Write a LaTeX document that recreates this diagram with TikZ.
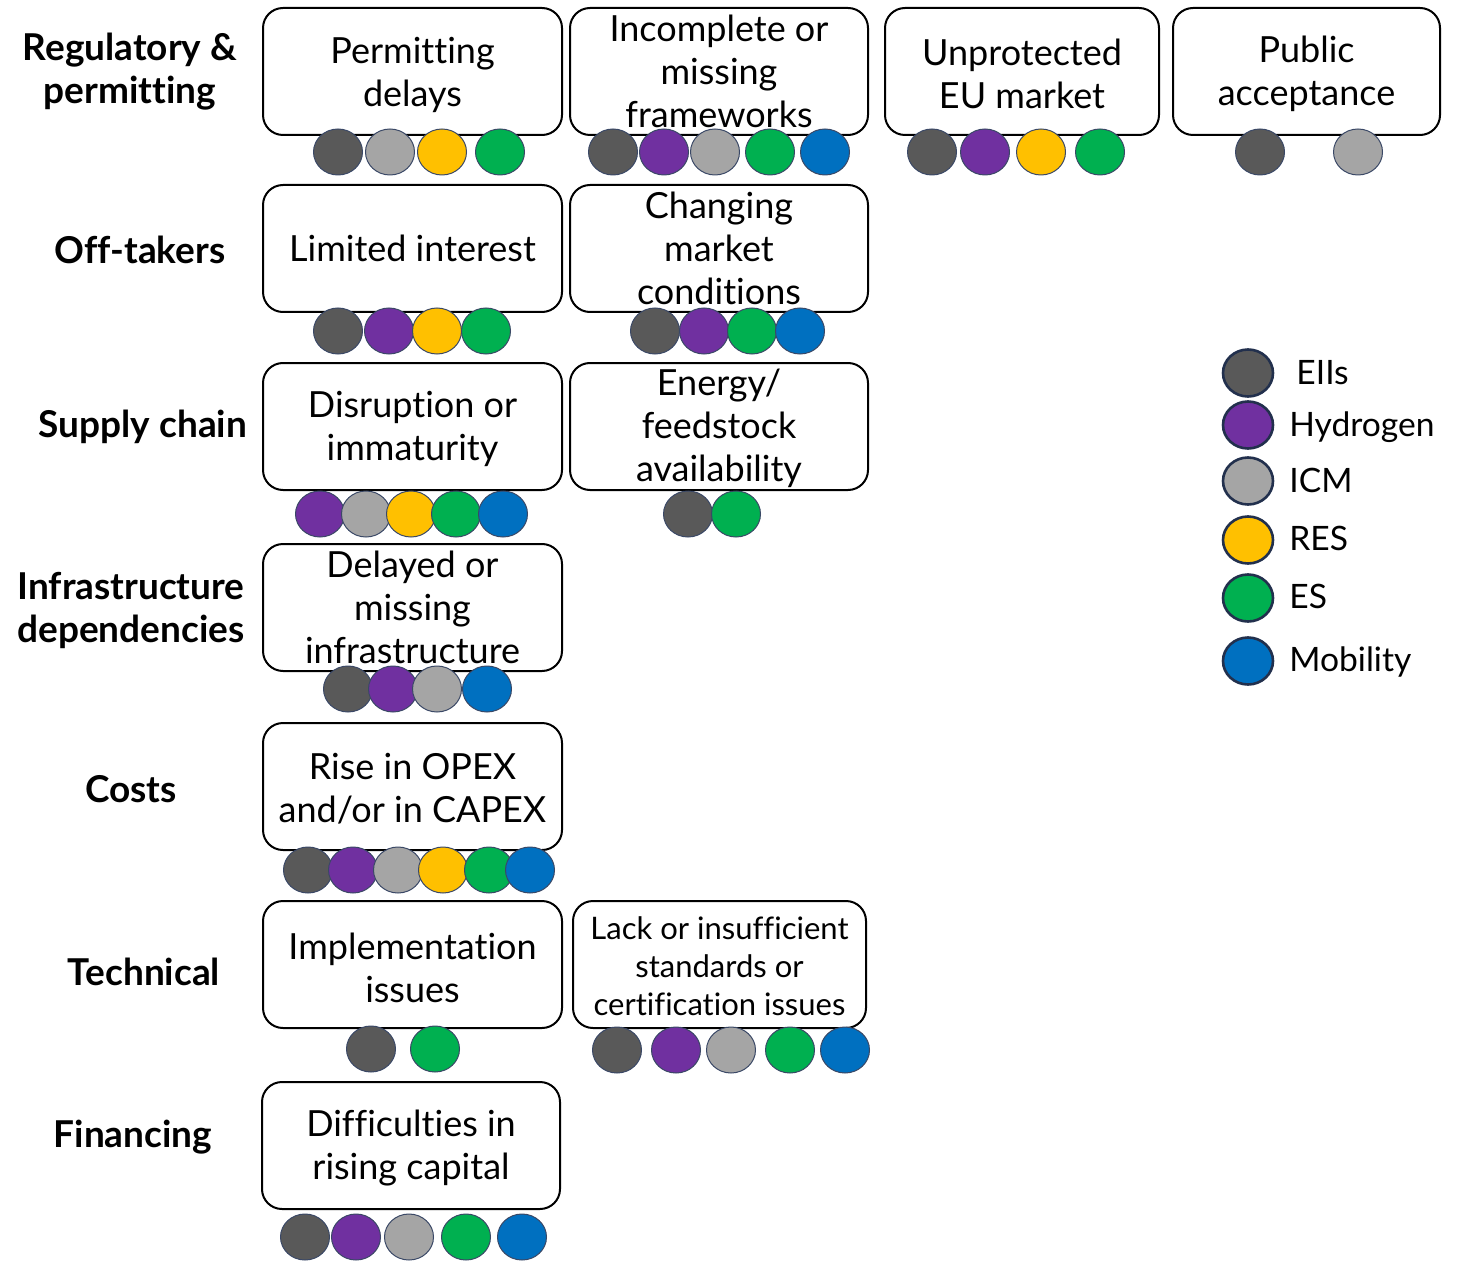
\documentclass[tikz,border=0pt]{standalone}
\usepackage{fontspec}
\setmainfont[Ligatures=CommonOff]{Lato}
\usetikzlibrary{shapes.geometric}
\definecolor{cEII}{HTML}{595959}
\definecolor{cH}{HTML}{7030A0}
\definecolor{cICM}{HTML}{A5A5A5}
\definecolor{cRES}{HTML}{FFC000}
\definecolor{cES}{HTML}{00B050}
\definecolor{cMob}{HTML}{0070C0}
\definecolor{rim}{HTML}{3A4866}
\definecolor{lrim}{HTML}{22304D}
\begin{document}
\begin{tikzpicture}[x=0.5pt,y=-0.5pt,
  box/.style={draw=black,line width=1pt,rounded corners=10pt,minimum height=63.5pt,inner sep=0pt,fill=white},
  boxtext/.style={align=center,inner sep=0pt,font=\fontsize{18}{21.5}\selectfont},
  smalltext/.style={align=center,inner sep=0pt,font=\fontsize{15.5}{19}\selectfont},
  cat/.style={align=center,inner sep=0pt,font=\fontsize{18.5}{21.5}\selectfont\bfseries},
  dot/.style={ellipse,draw=rim,line width=0.5pt,minimum width=24.5pt,minimum height=23pt,inner sep=0pt,fill=#1},
  ldot/.style={dot=#1,line width=1.3pt,draw=lrim,minimum width=25pt,minimum height=23.5pt},
  ltext/.style={anchor=west,inner sep=0pt,text height=12pt,text depth=3.5pt,font=\fontsize{16.8}{20}\selectfont}]
\useasboundingbox (0,0) rectangle (1460,1262);

% category labels
\node[cat] (c1) at (130,72) {Regulatory \&\\permitting};
\node[cat] (c2) at (140,250) {Off-takers};
\node[cat] (c3) at (143,427) {Supply chain};
\node[cat] (c4) at (131,610) {Infrastructure\\dependencies};
\node[cat] (c5) at (131,789) {Costs};
\node[cat] (c6) at (144,972) {Technical};
\node[cat] (c7) at (133,1137) {Financing};

% boxes
\node[box,minimum width=149.5pt] (b11) at (412.5,71.5) {};
\node[box,minimum width=149pt] (b12) at (719,71.5) {};
\node[box,minimum width=137pt] (b13) at (1022,71.5) {};
\node[box,minimum width=133.5pt] (b14) at (1306.5,71.5) {};
\node[box,minimum width=149.5pt] (b21) at (412.5,248.5) {};
\node[box,minimum width=149pt] (b22) at (719,248.5) {};
\node[box,minimum width=149.5pt] (b31) at (412.5,426.5) {};
\node[box,minimum width=149pt] (b32) at (719,426.5) {};
\node[box,minimum width=149.5pt] (b41) at (412.5,607.5) {};
\node[box,minimum width=149.5pt] (b51) at (412.5,786.5) {};
\node[box,minimum width=149.5pt] (b61) at (412.5,964.5) {};
\node[box,minimum width=146.5pt] (b62) at (719.5,964.5) {};
\node[box,minimum width=149pt] (b71) at (411,1145.5) {};

% box texts
\node[boxtext] (t11) at ([yshift=-1.5pt]b11.center) {Permitting\\delays};
\node[boxtext] (t12) at (b12.center) {Incomplete or\\missing\\frameworks};
\node[boxtext] (t13) at ([yshift=-1pt]b13.center) {Unprotected\\EU market};
\node[boxtext] (t14) at ([yshift=-1pt]b14.center) {Public\\acceptance};
\node[boxtext] (t21) at (b21.center) {Limited interest};
\node[boxtext] (t22) at (b22.center) {Changing\\market\\conditions};
\node[boxtext] (t31) at ([yshift=-1pt]b31.center) {Disruption or\\immaturity};
\node[boxtext] (t32) at ([yshift=-1pt]b32.center) {Energy/\\feedstock\\availability};
\node[boxtext] (t41) at (b41.center) {Delayed or\\missing\\infrastructure};
\node[boxtext] (t51) at ([yshift=-1pt]b51.center) {Rise in OPEX\\and/or in CAPEX};
\node[boxtext] (t61) at ([yshift=-1.5pt]b61.center) {Implementation\\issues};
\node[smalltext] (t62) at ([yshift=-1pt]b62.center) {Lack or insufficient\\standards or\\certification issues};
\node[boxtext] (t71) at ([yshift=-1.5pt]b71.center) {Difficulties in\\rising capital};

% indicator dots
\foreach \x/\c [count=\i] in {338/cEII,390/cICM,442/cRES,500/cES}
  \node[dot=\c] (d11-\i) at (\x,152) {};
\foreach \x/\c [count=\i] in {613/cEII,664/cH,715/cICM,770/cES,825/cMob}
  \node[dot=\c] (d12-\i) at (\x,152) {};
\foreach \x/\c [count=\i] in {932/cEII,985/cH,1041/cRES,1100/cES}
  \node[dot=\c] (d13-\i) at (\x,152) {};
\foreach \x/\c [count=\i] in {1260/cEII,1358/cICM}
  \node[dot=\c] (d14-\i) at (\x,152) {};
\foreach \x/\c [count=\i] in {338/cEII,389/cH,437/cRES,486/cES}
  \node[dot=\c] (d21-\i) at (\x,331) {};
\foreach \x/\c [count=\i] in {655/cEII,704/cH,752/cES,800/cMob}
  \node[dot=\c] (d22-\i) at (\x,331) {};
\foreach \x/\c [count=\i] in {320/cH,366/cICM,411/cRES,456/cES,503/cMob}
  \node[dot=\c] (d31-\i) at (\x,514) {};
\foreach \x/\c [count=\i] in {688/cEII,736/cES}
  \node[dot=\c] (d32-\i) at (\x,514) {};
\foreach \x/\c [count=\i] in {348/cEII,393/cH,437/cICM,487/cMob}
  \node[dot=\c] (d41-\i) at (\x,689) {};
\foreach \x/\c [count=\i] in {308/cEII,353/cH,398/cICM,443/cRES,489/cES,530/cMob}
  \node[dot=\c] (d51-\i) at (\x,870) {};
\foreach \x/\c [count=\i] in {371/cEII,435/cES}
  \node[dot=\c] (d61-\i) at (\x,1049) {};
\foreach \x/\c [count=\i] in {617/cEII,676/cH,731/cICM,790/cES,845/cMob}
  \node[dot=\c] (d62-\i) at (\x,1050) {};
\foreach \x/\c [count=\i] in {305/cEII,356/cH,409/cICM,466/cES,522/cMob}
  \node[dot=\c] (d71-\i) at (\x,1237) {};

% legend
\node[ldot=cEII] (l1) at (1248,373) {};
\node[ldot=cH] (l2) at (1248,425) {};
\node[ldot=cICM] (l3) at (1248,481) {};
\node[ldot=cRES] (l4) at (1248,540) {};
\node[ldot=cES] (l5) at (1248,598) {};
\node[ldot=cMob] (l6) at (1248,661) {};
\node[ltext] (lt1) at (1296,376) {EIIs};
\node[ltext] (lt2) at (1289,428) {Hydrogen};
\node[ltext] (lt3) at (1289,484) {ICM};
\node[ltext] (lt4) at (1289,542) {RES};
\node[ltext] (lt5) at (1289,600) {ES};
\node[ltext] (lt6) at (1289,663) {Mobility};
\end{tikzpicture}
\end{document}
